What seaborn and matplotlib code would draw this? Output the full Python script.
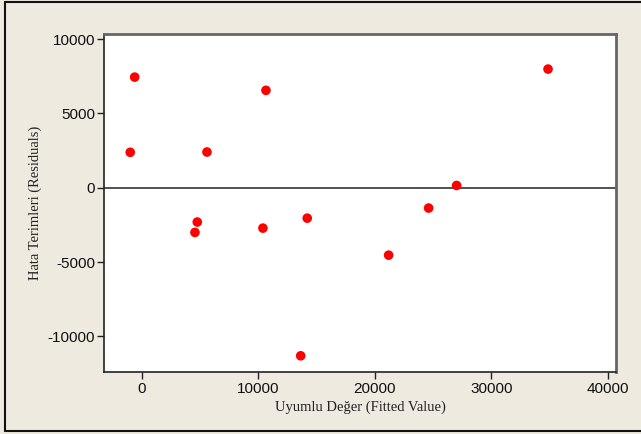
import matplotlib
matplotlib.use("Agg")
import matplotlib.pyplot as plt
from matplotlib.lines import Line2D
import seaborn as sns
import pandas as pd

fitted = [-980, -600, 5600, 10660, 34850, 27010, 24610, 21180, 4570, 4770, 10400, 13640, 14200]
residuals = [2380, 7440, 2400, 6550, 7980, 150, -1370, -4540, -3010, -2310, -2720, -11310, -2050]
xticks = [0, 10000, 20000, 30000, 40000]
yticks = [-10000, -5000, 0, 5000, 10000]

df = pd.DataFrame({"fitted": fitted, "resid": residuals})

sns.set_theme(style="white")
plt.rcParams["font.family"] = ["Liberation Sans", "DejaVu Sans"]

W, H = 641, 434
fig = plt.figure(figsize=(W / 100, H / 100), dpi=100)
fig.patch.set_facecolor("#EEEAE0")

ax = fig.add_axes([104 / W, 1 - 372 / H, (616 - 104) / W, (372 - 33.7) / H])
ax.set_facecolor("white")

ax.axhline(0, color="#222222", lw=1.1, zorder=1)
sns.scatterplot(data=df, x="fitted", y="resid", ax=ax, color="#FF0000",
                s=48, edgecolor="none", zorder=3)

ax.set_xlim(-3230, 40680)
ax.set_ylim(-12400, 10360)
ax.set_xticks(xticks)
ax.set_yticks(yticks)
ax.set_xticklabels([str(v) for v in xticks], fontsize=11)
ax.set_yticklabels([str(v) for v in yticks], fontsize=11)
ax.tick_params(axis="both", direction="out", length=5, width=1, color="#222222",
               bottom=True, left=True, labelcolor="#111111")
ax.tick_params(axis="x", pad=2.5)
ax.tick_params(axis="y", pad=1.5)

for s in ["left", "bottom"]:
    ax.spines[s].set_color("#222222")
    ax.spines[s].set_linewidth(1.2)
for s in ["top", "right"]:
    ax.spines[s].set_color("#666666")
    ax.spines[s].set_linewidth(2)

ax.set_xlabel("Uyumlu Değer (Fitted Value)", fontsize=10.5,
              family=["Liberation Serif", "DejaVu Serif"], color="#222222", labelpad=3)
ax.set_ylabel("Hata Terimleri (Residuals)", fontsize=10.5,
              family=["Liberation Serif", "DejaVu Serif"], color="#222222", labelpad=4)

# outer frame (no right edge)
lc = "#111111"
fig.add_artist(Line2D([5 / W, 1], [1 - 2 / H, 1 - 2 / H], color=lc, lw=1.5, transform=fig.transFigure))
fig.add_artist(Line2D([5 / W, 1], [1 - 431 / H, 1 - 431 / H], color=lc, lw=1.5, transform=fig.transFigure))
fig.add_artist(Line2D([5 / W, 5 / W], [1 - 2 / H, 1 - 431 / H], color=lc, lw=1.5, transform=fig.transFigure))

fig.savefig("out.png", dpi=100, facecolor=fig.get_facecolor())
